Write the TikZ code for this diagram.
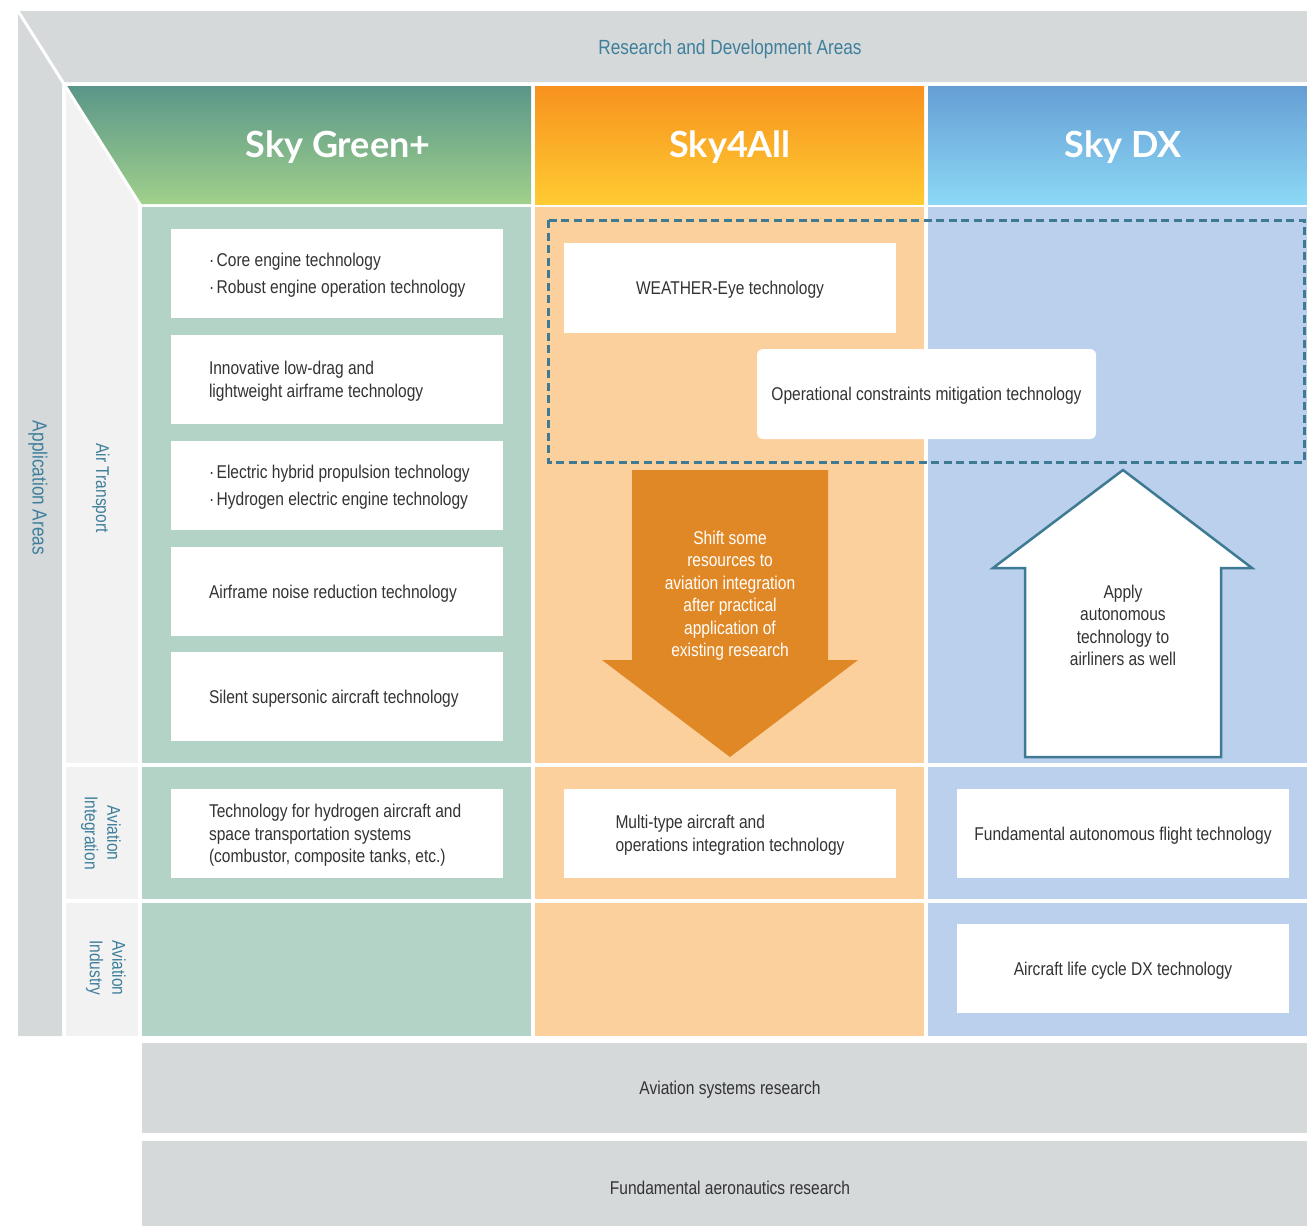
\documentclass[tikz,border=0pt]{standalone}
\usepackage{fontspec}
\setmainfont{Liberation Sans}[FakeStretch=0.84]
\newfontfamily\hdrfont{Lato}
\definecolor{bandgray}{HTML}{D5D9DA}
\definecolor{lightcol}{HTML}{F2F2F2}
\definecolor{greencell}{HTML}{B3D3C6}
\definecolor{orangecell}{HTML}{FCD09C}
\definecolor{bluecell}{HTML}{BAD0EC}
\definecolor{tealline}{HTML}{3E7A93}
\definecolor{labeltxt}{HTML}{3F7F9B}
\definecolor{bodytxt}{HTML}{333333}
\definecolor{arroworange}{HTML}{E18826}
\definecolor{gtop}{HTML}{5A9689}
\definecolor{gmid}{HTML}{80BFA9}
\definecolor{gbot}{HTML}{A0D08B}
\definecolor{otop}{HTML}{F7921E}
\definecolor{omid}{HTML}{FAAE3E}
\definecolor{obot}{HTML}{FFCB32}
\definecolor{btop}{HTML}{659ED4}
\definecolor{bmid}{HTML}{62CCF4}
\definecolor{bbot}{HTML}{8CD8F6}
\begin{document}
\begin{tikzpicture}[x=1pt,y=-1pt,
  body/.style={font=\fontsize{18.5}{22.5}\selectfont, text=bodytxt, inner sep=0pt},
  bodyd/.style={body, text depth=0pt},
  bodyleft/.style={bodyd, align=left, anchor=west},
  bodyc/.style={body, align=center},
  wbox/.style={fill=white, minimum width=332pt, minimum height=89pt, inner sep=0pt, align=center},
  lbl/.style={font=\fontsize{18.5}{22.5}\selectfont, text=labeltxt, inner sep=0pt, align=center, rotate=-90},
  biglbl/.style={font=\fontsize{20.5}{24}\selectfont, text=labeltxt, inner sep=0pt},
  hdr/.style={font=\hdrfont\bfseries\fontsize{36}{40}\selectfont, text=white, inner sep=0pt, anchor=base},
  band/.style={fill=bandgray}
]
\useasboundingbox (0,0) rectangle (1307,1226);
\fill[white] (0,0) rectangle (1307,1226);
% outer gray L
\fill[band] (18,11) -- (1307,11) -- (1307,82) -- (62,82) -- (62,1036) -- (18,1036) -- cycle;
% light gray column
\fill[lightcol] (66,86) rectangle (138,763);
\fill[lightcol] (66,767) rectangle (138,899);
\fill[lightcol] (66,903) rectangle (138,1036);
% headers
\shade[top color=gtop, middle color=gmid, bottom color=gbot] (66,86) -- (531,86) -- (531,204) -- (140,204) -- cycle;
\shade[top color=otop, middle color=omid, bottom color=obot] (535,86) rectangle (924,204);
\shade[top color=btop, middle color=bmid, bottom color=bbot] (928,86) rectangle (1307,204);
% cells
\fill[greencell] (142,207) rectangle (531,763);
\fill[greencell] (142,767) rectangle (531,899);
\fill[greencell] (142,903) rectangle (531,1036);
\fill[orangecell] (535,207) rectangle (924,763);
\fill[orangecell] (535,767) rectangle (924,899);
\fill[orangecell] (535,903) rectangle (924,1036);
\fill[bluecell] (928,207) rectangle (1307,763);
\fill[bluecell] (928,767) rectangle (1307,899);
\fill[bluecell] (928,903) rectangle (1307,1036);
% diagonal white line
\draw[white, line width=3pt] (18,11) -- (141,206);
% bottom bands
\fill[band] (142,1043) rectangle (1307,1133);
\fill[band] (142,1141) rectangle (1307,1226);
% dashed area
\draw[tealline, line width=3pt, dash pattern=on 8pt off 4.5pt] (548,220) rectangle (1304,462);

% texts of frame
\node[biglbl, text depth=0pt] (rda) at (730,47) {Research and Development Areas};
\node[biglbl, rotate=-90] (aa) at (38,488) {Application Areas};
\node[lbl] (at) at (101,488) {Air Transport};
\node[lbl] (ai) at (101,833) {Aviation\\Integration};
\node[lbl] (aind) at (106,968) {Aviation\\Industry};
\node[hdr] (h1) at (338,157) {Sky Green+};
\node[hdr] (h2) at (730,157) {Sky4All};
\node[hdr] (h3) at (1123,157) {Sky DX};

% green column boxes
\node[wbox] (g1) at (337,273.5) {};
\node[wbox] (g2) at (337,379.5) {};
\node[wbox] (g3) at (337,485.5) {};
\node[wbox] (g4) at (337,591.5) {};
\node[wbox] (g5) at (337,696.5) {};
\node[wbox] (g6) at (337,833.5) {};
\node[bodyleft] (t1) at ([xshift=38pt]g1.west) {·\hspace{2.5pt}Core engine technology\\[5pt]·\hspace{2.5pt}Robust engine operation technology};
\node[bodyleft] (t2) at ([xshift=38pt]g2.west) {Innovative low-drag and\\lightweight airframe technology};
\node[bodyleft] (t3) at ([xshift=38pt]g3.west) {·\hspace{2.5pt}Electric hybrid propulsion technology\\[5pt]·\hspace{2.5pt}Hydrogen electric engine technology};
\node[bodyleft] (t4) at ([xshift=38pt]g4.west) {Airframe noise reduction technology};
\node[bodyleft] (t5) at ([xshift=38pt]g5.west) {Silent supersonic aircraft technology};
\node[bodyleft] (t6) at ([xshift=38pt]g6.west) {Technology for hydrogen aircraft and\\space transportation systems\\(combustor, composite tanks, etc.)};

% orange column
\node[wbox, bodyd, minimum width=332pt, minimum height=90pt] (o1) at (730,288) {WEATHER-Eye technology};
\node[wbox, bodyd, align=left, minimum width=332pt] (o2) at (730,833.5) {Multi-type aircraft and\\operations integration technology};
\node[wbox, bodyd, minimum width=339pt, minimum height=90pt, rounded corners=6pt] (oc) at (926.5,394) {Operational constraints mitigation technology};

% blue column
\node[wbox, bodyd] (b1) at (1123,833.5) {Fundamental autonomous flight technology};
\node[wbox, bodyd] (b2) at (1123,968.5) {Aircraft life cycle DX technology};

% arrows
\fill[arroworange] (632,470) -- (828,470) -- (828,660) -- (858,660) -- (730,757) -- (602,660) -- (632,660) -- cycle;
\node[bodyc, text=white] (ta) at (730,595.5) {Shift some\\resources to\\aviation integration\\after practical\\application of\\existing research};
\draw[tealline, fill=white, line width=2.5pt, line join=miter] (1123,470) -- (1252,568) -- (1221,568) -- (1221,757) -- (1025,757) -- (1025,568) -- (993,568) -- cycle;
\node[bodyc] (tb) at (1123,625.5) {Apply\\autonomous\\technology to\\airliners as well};

% bottom band texts
\node[bodyd] (asr) at (730,1088) {Aviation systems research};
\node[bodyd] (far) at (730,1188) {Fundamental aeronautics research};
\end{tikzpicture}
\end{document}
